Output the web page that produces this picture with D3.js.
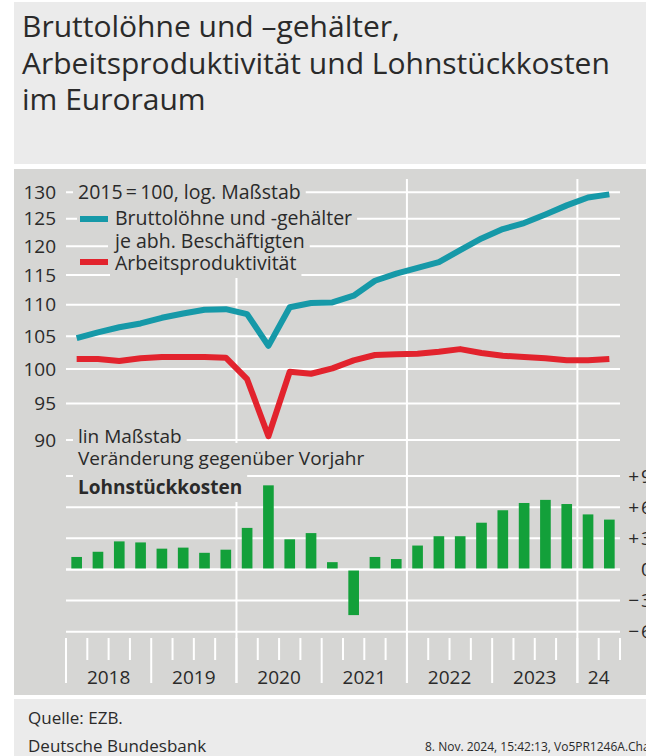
<!DOCTYPE html>
<head>
    <meta charset="utf-8" />
    <script src="https://d3js.org/d3.v7.min.js"></script>
    <style>
        body { margin: 0; background: #fff; }
        svg { display: block; font-family: "Open Sans", sans-serif; }
    </style>
    <title>Lohnstückkosten</title>
</head>
<body>
<script>
    // quarterly data
    var quarters = ["2018 Q1", "2018 Q2", "2018 Q3", "2018 Q4",
                    "2019 Q1", "2019 Q2", "2019 Q3", "2019 Q4",
                    "2020 Q1", "2020 Q2", "2020 Q3", "2020 Q4",
                    "2021 Q1", "2021 Q2", "2021 Q3", "2021 Q4",
                    "2022 Q1", "2022 Q2", "2022 Q3", "2022 Q4",
                    "2023 Q1", "2023 Q2", "2023 Q3", "2023 Q4",
                    "2024 Q1", "2024 Q2"];
    var wages = [104.7, 105.6, 106.4, 107.0, 107.9, 108.6, 109.2, 109.3,
                 108.5, 103.5, 109.6, 110.3, 110.4, 111.5, 114.0, 115.2,
                 116.2, 117.2, 119.3, 121.4, 123.1, 124.2, 125.8, 127.5,
                 129.0, 129.6];
    var productivity = [101.5, 101.5, 101.2, 101.6, 101.8, 101.8, 101.8, 101.7,
                        98.5, 90.5, 99.6, 99.3, 100.1, 101.3, 102.1, 102.2,
                        102.3, 102.6, 103.0, 102.4, 102.0, 101.8, 101.6, 101.3,
                        101.3, 101.5];
    var unitLabourCosts = [1.2, 1.7, 2.7, 2.6, 2.0, 2.1, 1.6, 1.9,
                           4.0, 8.1, 2.9, 3.5, 0.7, -4.4, 1.2, 1.0,
                           2.3, 3.2, 3.2, 4.5, 5.7, 6.4, 6.7, 6.3,
                           5.3, 4.8];
    var yearLabels = {"2018": "2018", "2019": "2019", "2020": "2020", "2021": "2021",
                      "2022": "2022", "2023": "2023", "2024": "24"};
    var logTicks = [90, 95, 100, 105, 110, 115, 120, 125, 130];
    var linTicks = [-6, -3, 0, 3, 6, 9];
    var gridYears = ["2020", "2022", "2024"];

    var width = 646, height = 756;
    var panel = "#d6d6d4", light = "#ebebeb", ink = "#2a2a2a";
    var teal = "#1699a8", red = "#e2232d", green = "#13a03a";

    var svg = d3.select("body").append("svg")
        .attr("width", width)
        .attr("height", height);

    // backgrounds
    svg.append("rect").attr("x", 14).attr("y", 2).attr("width", 632).attr("height", 162).attr("fill", light);
    svg.append("rect").attr("x", 14).attr("y", 169).attr("width", 632).attr("height", 526).attr("fill", panel);
    svg.append("rect").attr("x", 14).attr("y", 699).attr("width", 632).attr("height", 57).attr("fill", light);

    // title
    var title = ["Bruttolöhne und –gehälter,", "Arbeitsproduktivität und Lohnstückkosten", "im Euroraum"];
    svg.append("g").selectAll("text").data(title).join("text")
        .attr("x", 22)
        .attr("y", (d, i) => 37 + i * 36.5)
        .attr("font-size", 30)
        .attr("fill", ink)
        .text(d => d);

    // scales
    var x = d3.scaleBand().domain(quarters).range([66, 620]).paddingInner(0.5).paddingOuter(0.25);
    var yLog = d3.scaleLog().domain([90, 130]).range([440, 192.3]);
    var yLin = d3.scaleLinear().domain([-6, 9]).range([631.7, 476]);
    var cx = q => x(q) + x.bandwidth() / 2;
    var edge = q => x(q) - (x.step() - x.bandwidth()) / 2;

    var grid = svg.append("g").attr("stroke", "#fff").attr("stroke-width", 2);
    var boxes = svg.append("g");
    var labels = svg.append("g").attr("fill", ink);
    var marks = svg.append("g");

    // horizontal grid
    grid.selectAll(".hl").data(logTicks).join("line")
        .attr("x1", 66).attr("x2", 620)
        .attr("y1", d => yLog(d)).attr("y2", d => yLog(d));
    grid.selectAll(".hb").data(linTicks).join("line")
        .attr("x1", 66).attr("x2", 620)
        .attr("y1", d => yLin(d)).attr("y2", d => yLin(d));

    // vertical grid at year starts
    grid.selectAll(".vg").data(gridYears.map(y => y + " Q1")).join("line")
        .attr("x1", d => edge(d)).attr("x2", d => edge(d))
        .attr("y1", 179).attr("y2", 683);

    // quarter ticks at the bottom
    var bounds = quarters.map(q => ({x: edge(q), year: q.slice(-2) === "Q1"}));
    bounds.push({x: edge(quarters[quarters.length - 1]) + x.step(), year: false});
    grid.selectAll(".tk").data(bounds).join("line")
        .attr("x1", d => d.x).attr("x2", d => d.x)
        .attr("y1", 638).attr("y2", d => d.year ? 683 : 660);

    // year labels
    var yearGroups = d3.groups(quarters, q => q.slice(0, 4));
    labels.selectAll(".yr").data(yearGroups).join("text")
        .attr("x", d => d3.mean(d[1], cx))
        .attr("y", 684)
        .attr("text-anchor", "middle")
        .attr("font-size", 19)
        .text(d => yearLabels[d[0]]);

    // left axis (log)
    labels.selectAll(".ly").data(logTicks).join("text")
        .attr("x", 56).attr("y", d => yLog(d)).attr("dy", "0.35em")
        .attr("text-anchor", "end")
        .attr("font-size", 19)
        .text(d => d);

    // right axis (lin), clipped by the picture edge
    var rightAxis = labels.selectAll(".ry").data(linTicks).join("g")
        .attr("transform", d => "translate(0," + yLin(d) + ")");
    rightAxis.append("text")
        .attr("x", 639).attr("dy", "0.35em").attr("text-anchor", "end").attr("font-size", 19)
        .text(d => d > 0 ? "+" : d < 0 ? "−" : "");
    rightAxis.append("text")
        .attr("x", 641).attr("dy", "0.35em").attr("font-size", 19)
        .text(d => Math.abs(d));

    // text with a panel coloured box behind it, to break the grid
    function boxedText(px, py, str, size, weight) {
        var t = labels.append("text")
            .attr("x", px).attr("y", py)
            .attr("font-size", size)
            .attr("font-weight", weight || "normal")
            .text(str);
        var b = t.node().getBBox();
        boxes.append("rect")
            .attr("x", b.x - 5).attr("y", b.y - 2)
            .attr("width", b.width + 10).attr("height", b.height + 4)
            .attr("fill", panel);
        return t;
    }
    function swatch(py, color) {
        boxes.append("rect").attr("x", 77).attr("y", py - 6).attr("width", 34).attr("height", 12).attr("fill", panel);
        marks.append("line").attr("x1", 80).attr("x2", 108).attr("y1", py).attr("y2", py)
            .attr("stroke", color).attr("stroke-width", 6);
    }

    boxedText(78, 199, "2015\u2009=\u2009100, log. Maßstab", 19.5);
    boxedText(115, 225, "Bruttolöhne und -gehälter", 19.5);
    boxedText(115, 248, "je abh. Beschäftigten", 19.5);
    boxedText(115, 270, "Arbeitsproduktivität", 19.5);
    swatch(219, teal);
    swatch(262, red);

    boxedText(78, 443, "lin Maßstab", 19);
    boxedText(78, 465, "Veränderung gegenüber Vorjahr", 19);
    boxedText(78, 494, "Lohnstückkosten", 19, "bold");

    // bars
    marks.selectAll(".bar").data(quarters).join("rect")
        .attr("x", d => x(d))
        .attr("width", x.bandwidth())
        .attr("y", (d, i) => yLin(Math.max(0, unitLabourCosts[i])))
        .attr("height", (d, i) => Math.abs(yLin(unitLabourCosts[i]) - yLin(0)))
        .attr("fill", green);
    marks.append("line")
        .attr("x1", 66).attr("x2", 620).attr("y1", yLin(0)).attr("y2", yLin(0))
        .attr("stroke", "#fff").attr("stroke-width", 2);

    // lines
    var line = series => d3.line()
        .x((d, i) => cx(quarters[i]))
        .y(d => yLog(d))(series);
    marks.append("path").attr("d", line(wages))
        .attr("fill", "none").attr("stroke", teal).attr("stroke-width", 6)
        .attr("stroke-linejoin", "round");
    marks.append("path").attr("d", line(productivity))
        .attr("fill", "none").attr("stroke", red).attr("stroke-width", 6)
        .attr("stroke-linejoin", "round");

    // footer
    var foot = svg.append("g").attr("fill", ink);
    foot.append("text").attr("x", 28).attr("y", 724).attr("font-size", 17).text("Quelle: EZB.");
    foot.append("text").attr("x", 28).attr("y", 752).attr("font-size", 17).text("Deutsche Bundesbank");
    foot.append("text").attr("x", 425).attr("y", 751).attr("font-size", 12)
        .text("8. Nov. 2024, 15:42:13, Vo5PR1246A.Cha");
</script>
</body>
